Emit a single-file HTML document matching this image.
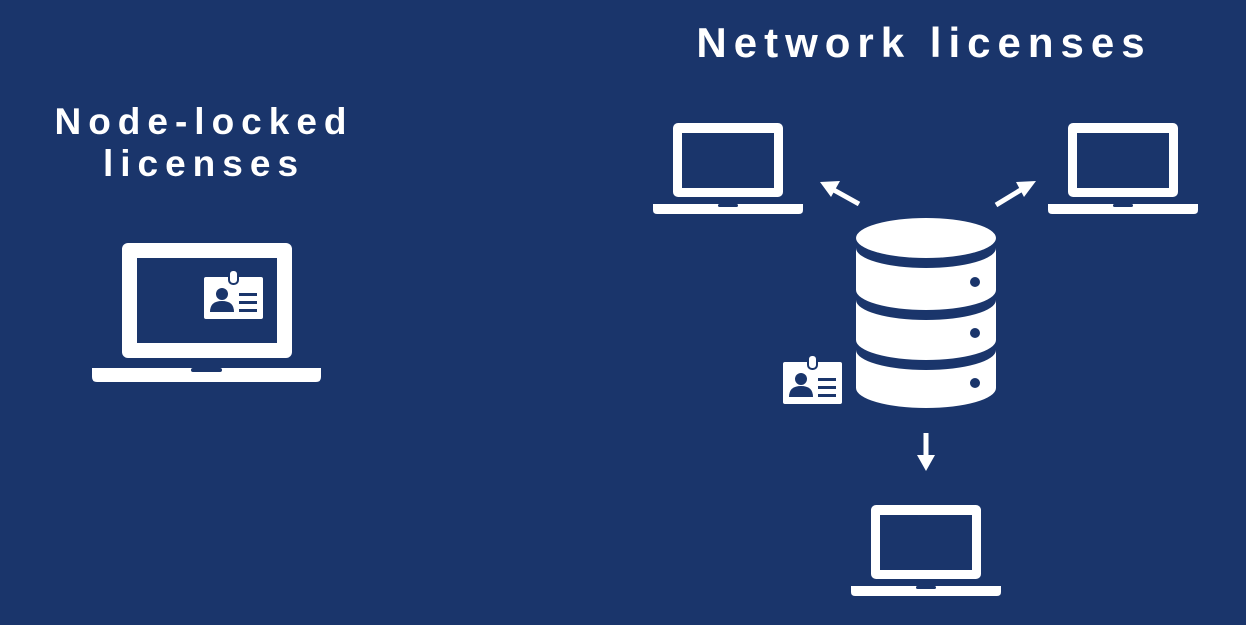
<!DOCTYPE html>
<html><head><style>
html,body{margin:0;padding:0;background:#1a356b;}
svg{display:block}
text{font-family:"Liberation Sans",sans-serif;font-weight:bold;fill:#fff;}
</style></head><body>
<svg width="1246" height="625" viewBox="0 0 1246 625" xmlns="http://www.w3.org/2000/svg">
<rect width="1246" height="625" fill="#1a356b"/>
<defs>
<g id="lap">
<rect x="20" y="0" width="110" height="74" rx="5" fill="#fff"/>
<rect x="29" y="10" width="92" height="55" fill="#1a356b"/>
<path d="M0 81 H150 V87 Q150 91 146 91 H4 Q0 91 0 87 Z" fill="#fff"/>
<rect x="65" y="81" width="20" height="3" rx="1.5" fill="#1a356b"/>
</g>
<g id="badge">
<rect x="0" y="7" width="59" height="42" rx="2" fill="#fff"/>
<rect x="25" y="0" width="9" height="14" rx="4" fill="#fff" stroke="#1a356b" stroke-width="2"/>
<circle cx="18" cy="24" r="6" fill="#1a356b"/>
<path d="M6 42 Q6 31 18 31 Q30 31 30 42 Z" fill="#1a356b"/>
<rect x="35" y="23" width="18" height="3" fill="#1a356b"/>
<rect x="35" y="31" width="18" height="3" fill="#1a356b"/>
<rect x="35" y="39" width="18" height="3" fill="#1a356b"/>
</g>
</defs>
<text x="924" y="57" font-size="42" text-anchor="middle" letter-spacing="7">Network licenses</text>
<text x="204" y="134" font-size="37" text-anchor="middle" letter-spacing="7">Node-locked</text>
<text x="204" y="176" font-size="37" text-anchor="middle" letter-spacing="7">licenses</text>

<rect x="122" y="243" width="170" height="115" rx="6" fill="#fff"/>
<rect x="137" y="258" width="140" height="85" fill="#1a356b"/>
<path d="M92 368 H321 V377 Q321 382 316 382 H97 Q92 382 92 377 Z" fill="#fff"/>
<rect x="191" y="368" width="31" height="4" rx="2" fill="#1a356b"/>
<use href="#badge" x="204" y="270"/>

<use href="#lap" x="653" y="123"/>
<use href="#lap" x="1048" y="123"/>
<use href="#lap" x="851" y="505"/>

<g fill="#fff">
<path d="M856 248 V290 A70 20 0 0 0 996 290 V248 A70 20 0 0 1 856 248 Z"/>
<path d="M856 300 V340 A70 20 0 0 0 996 340 V300 A70 20 0 0 1 856 300 Z"/>
<path d="M856 350 V388 A70 20 0 0 0 996 388 V350 A70 20 0 0 1 856 350 Z"/>
<ellipse cx="926" cy="238" rx="70" ry="20"/>
</g>
<g fill="#1a356b">
<circle cx="975" cy="282" r="5"/>
<circle cx="975" cy="333" r="5"/>
<circle cx="975" cy="383" r="5"/>
</g>
<use href="#badge" x="783" y="355"/>

<g stroke="#fff" stroke-width="5" fill="none">
<line x1="859" y1="204" x2="832" y2="189"/>
<line x1="996" y1="205" x2="1024" y2="188"/>
<line x1="926" y1="433" x2="926" y2="458"/>
</g>
<g fill="#fff">
<polygon points="820,182 840,181 831,197"/>
<polygon points="1036,181 1024,197 1016,182"/>
<polygon points="917,455 935,455 926,471"/>
</g>
</svg>
</body></html>
